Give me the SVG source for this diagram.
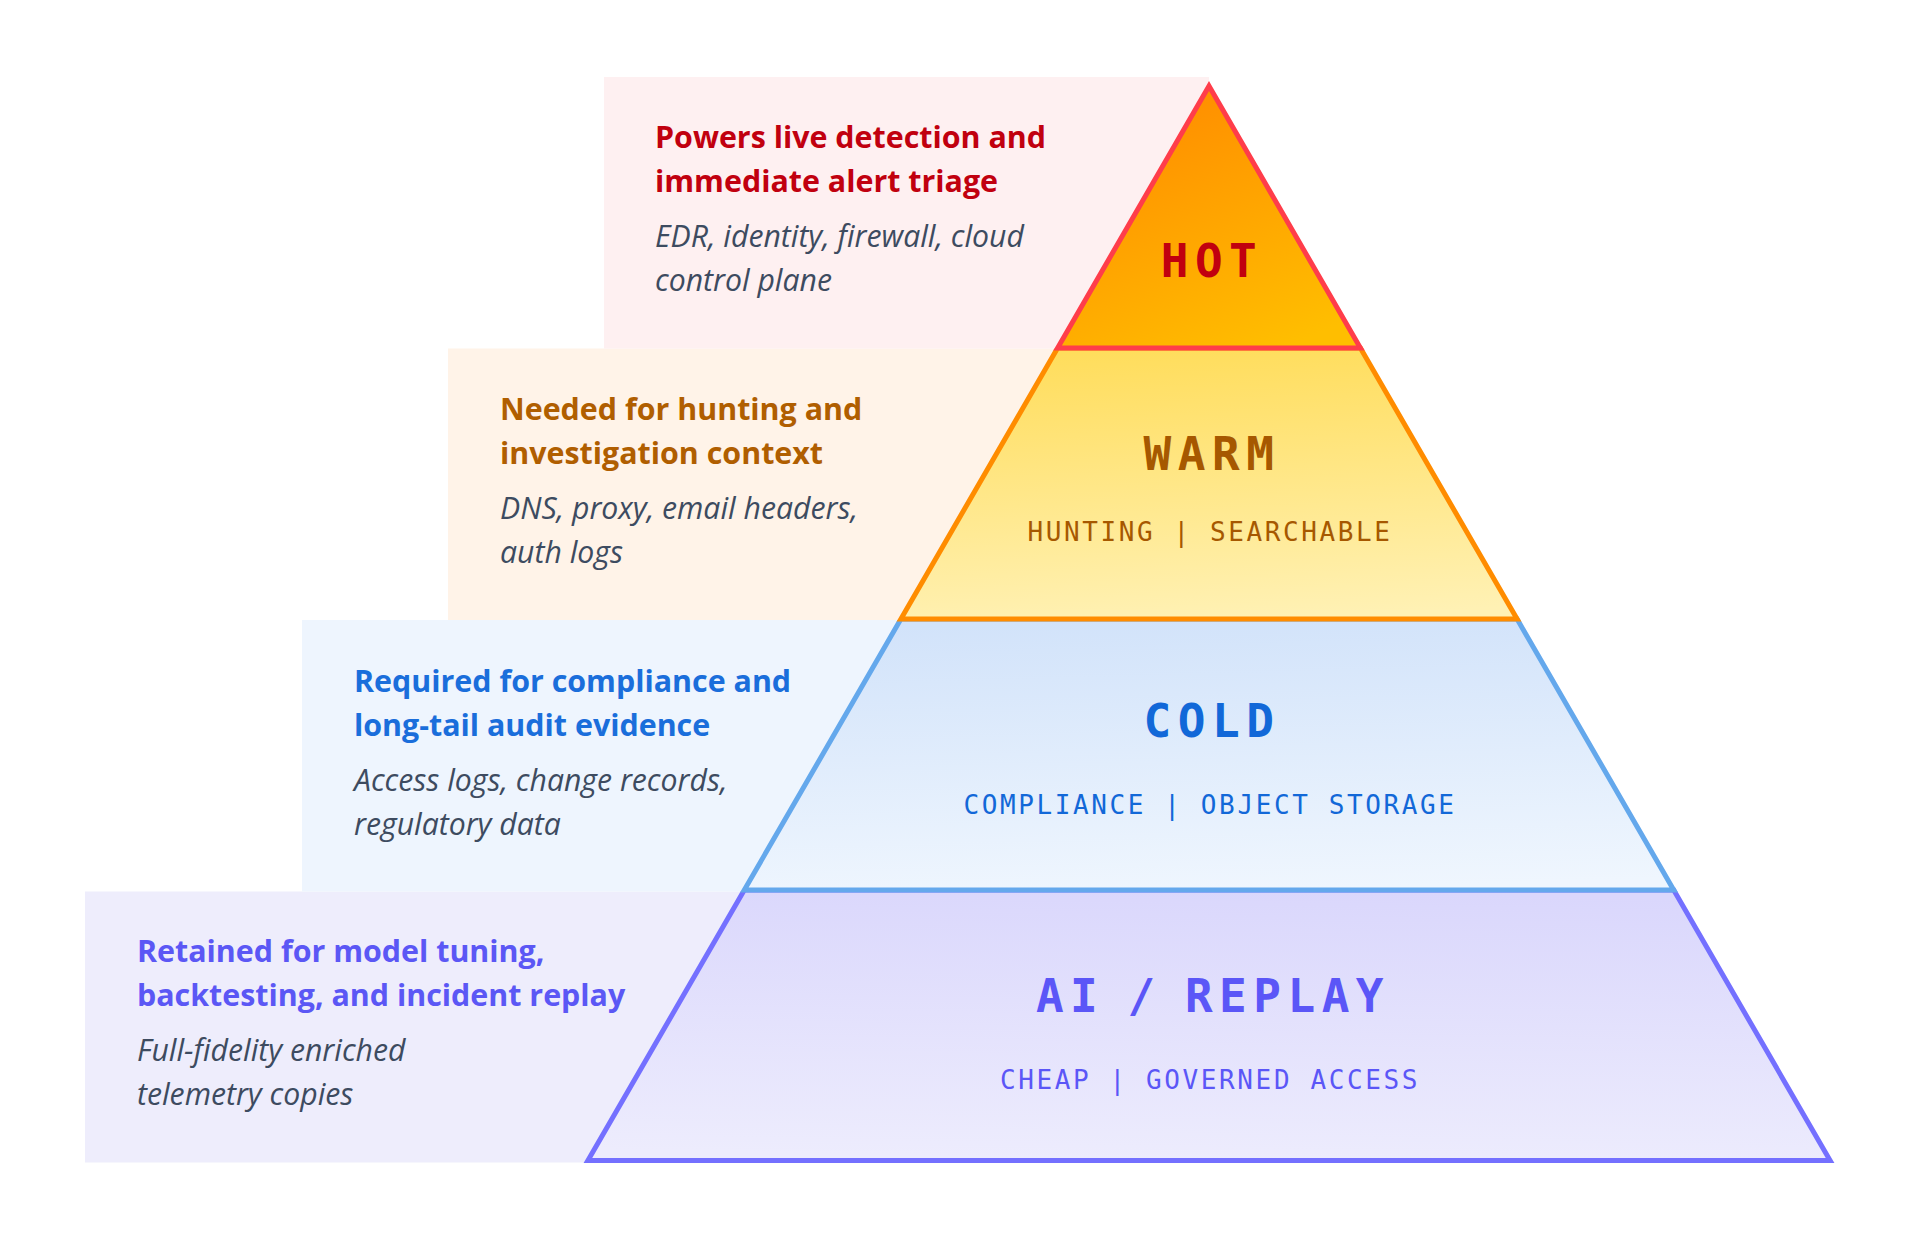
<svg xmlns="http://www.w3.org/2000/svg" width="1920" height="1240" viewBox="0 0 1920 1240">
  <defs>
    <linearGradient id="gHot" x1="0.25" y1="0" x2="0.75" y2="1">
      <stop offset="0" stop-color="#FF8A00"/>
      <stop offset="1" stop-color="#FFBE00"/>
    </linearGradient>
    <linearGradient id="gWarm" x1="0.45" y1="0" x2="0.55" y2="1">
      <stop offset="0" stop-color="#FFDD5C"/>
      <stop offset="1" stop-color="#FFF1B4"/>
    </linearGradient>
    <linearGradient id="gCold" x1="0.45" y1="0" x2="0.55" y2="1">
      <stop offset="0" stop-color="#D2E3FA"/>
      <stop offset="1" stop-color="#EFF6FE"/>
    </linearGradient>
    <linearGradient id="gAi" x1="0.55" y1="0" x2="0.45" y2="1">
      <stop offset="0" stop-color="#DAD7FC"/>
      <stop offset="1" stop-color="#EDECFD"/>
    </linearGradient>
  </defs>
  <style>
    .head { font-family: "Open Sans", "Noto Sans", sans-serif; font-weight: 700; font-size: 30.4px; }
    .desc { font-family: "Open Sans", "Noto Sans", sans-serif; font-style: italic; font-size: 30.2px; fill: #3D4B60; }
    .tier { font-family: "DejaVu Sans Mono", "Liberation Mono", monospace; font-weight: 700; font-size: 46px; letter-spacing: 6.5px; text-anchor: middle; }
    .sub { font-family: "DejaVu Sans Mono", "Liberation Mono", monospace; font-size: 26px; letter-spacing: 2.6px; text-anchor: middle; }
    .band { stroke-width: 5; stroke-linejoin: miter; }
  </style>
  <rect width="1920" height="1240" fill="#FFFFFF"/>

  <g id="tier-ai">
    <rect x="85" y="891.5" width="1124" height="271" fill="#EEEDFC"/>
    <polygon class="band" points="587.9,1160.5 1830.1,1160.5 1673.7,890 744.3,890" fill="url(#gAi)" stroke="#7470FF"/>
    <text class="head" x="137" y="962" fill="#5B57F5">Retained for model tuning,</text>
    <text class="head" x="137" y="1006" fill="#5B57F5">backtesting, and incident replay</text>
    <text class="desc" x="137" y="1061">Full-fidelity enriched</text>
    <text class="desc" x="137" y="1105">telemetry copies</text>
    <text class="tier" x="1213" y="1012" fill="#5B56F7" style="word-spacing:-11px">AI / REPLAY</text>
    <text class="sub" x="1210" y="1089" fill="#5B56F7">CHEAP | GOVERNED ACCESS</text>
  </g>

  <g id="tier-cold">
    <rect x="302" y="620" width="907" height="271.5" fill="#EEF5FE"/>
    <polygon class="band" points="744.3,890 1673.7,890 1517.1,619 900.9,619" fill="url(#gCold)" stroke="#64A8EC"/>
    <text class="head" x="354" y="692" fill="#1A6EDB">Required for compliance and</text>
    <text class="head" x="354" y="736" fill="#1A6EDB">long-tail audit evidence</text>
    <text class="desc" x="354" y="791">Access logs, change records,</text>
    <text class="desc" x="354" y="835">regulatory data</text>
    <text class="tier" x="1212" y="736.5" fill="#1268D8">COLD</text>
    <text class="sub" x="1210" y="814" fill="#1268D8">COMPLIANCE | OBJECT STORAGE</text>
  </g>

  <g id="tier-warm">
    <rect x="448" y="348.5" width="761" height="271.5" fill="#FFF3E8"/>
    <polygon class="band" points="900.9,619 1517.1,619 1360.4,348 1057.6,348" fill="url(#gWarm)" stroke="#FF8C00"/>
    <text class="head" x="500" y="420" fill="#B05E00">Needed for hunting and</text>
    <text class="head" x="500" y="464" fill="#B05E00">investigation context</text>
    <text class="desc" x="500" y="519">DNS, proxy, email headers,</text>
    <text class="desc" x="500" y="563">auth logs</text>
    <text class="tier" x="1212" y="470" fill="#A65800">WARM</text>
    <text class="sub" x="1210" y="540.5" fill="#A65800">HUNTING | SEARCHABLE</text>
  </g>

  <g id="tier-hot">
    <rect x="604" y="77" width="605" height="271.5" fill="#FEF0F1"/>
    <polygon class="band" points="1057.6,348 1360.4,348 1209,86" fill="url(#gHot)" stroke="#FF3D4A"/>
    <text class="head" x="655" y="148" fill="#C1000F">Powers live detection and</text>
    <text class="head" x="655" y="192" fill="#C1000F">immediate alert triage</text>
    <text class="desc" x="655" y="247">EDR, identity, firewall, cloud</text>
    <text class="desc" x="655" y="291">control plane</text>
    <text class="tier" x="1212" y="277" fill="#C1000F">HOT</text>
  </g>
</svg>
